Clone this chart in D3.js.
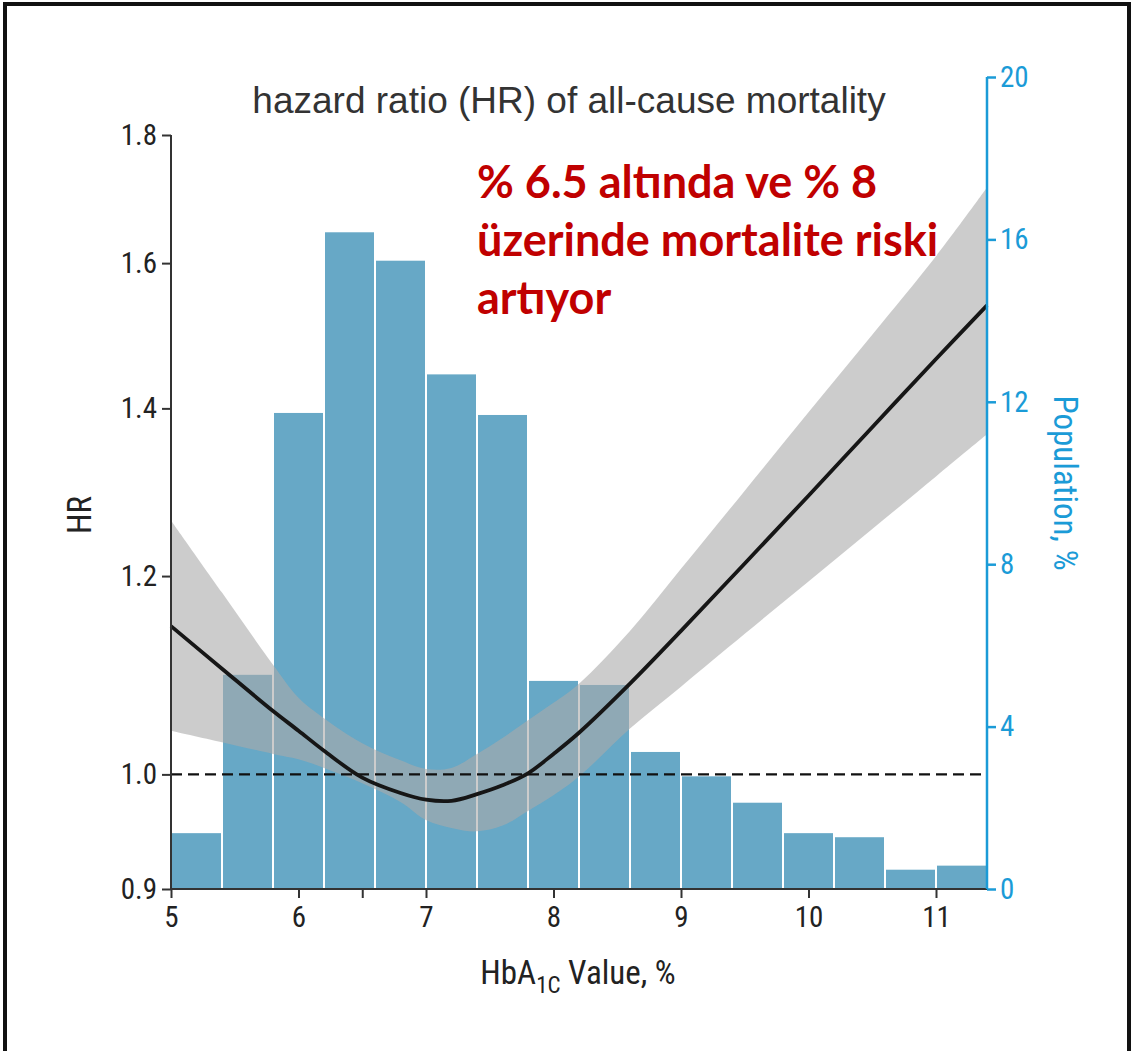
<!DOCTYPE html>
<html>
<head>
<meta charset="utf-8">
<script src="https://cdn.jsdelivr.net/npm/d3@7"></script>
<style>
  html, body { margin: 0; padding: 0; background: #fff; }
  svg { display: block; }
  .narrow { font-family: "Liberation Sans Narrow", "Arial Narrow", "Roboto Condensed", "Liberation Sans", Arial, sans-serif; }
</style>
</head>
<body>
<svg id="chart" width="1133" height="1051"></svg>
<script>
// HbA1c histogram bins (left edge, width 0.4) and share of population, %
const binStart = [5.0, 5.4, 5.8, 6.2, 6.6, 7.0, 7.4, 7.8, 8.2, 8.6, 9.0, 9.4, 9.8, 10.2, 10.6, 11.0];
const population = [1.4, 5.3, 11.75, 16.2, 15.5, 12.7, 11.7, 5.15, 5.05, 3.4, 2.8, 2.15, 1.4, 1.3, 0.5, 0.6];
const binWidth = 0.4;

// Spline fit of the hazard ratio with its 95% confidence band
const hba1c   = [5.0, 5.4, 5.8, 6.0, 6.2, 6.5, 6.8, 7.0, 7.2, 7.4, 7.6, 7.8, 8.0, 8.2, 8.6, 9.0, 9.5, 10.0, 10.5, 11.0, 11.4];
const hr      = [1.146, 1.102, 1.060, 1.041, 1.022, 0.997, 0.983, 0.977, 0.976, 0.982, 0.990, 1.001, 1.019, 1.039, 1.087, 1.141, 1.214, 1.292, 1.376, 1.465, 1.539];
const hrLower = [1.041, 1.030, 1.019, 1.014, 1.006, 0.992, 0.975, 0.959, 0.952, 0.949, 0.954, 0.967, 0.981, 0.998, 1.043, 1.084, 1.138, 1.194, 1.253, 1.315, 1.367];
const hrUpper = [1.263, 1.182, 1.106, 1.073, 1.053, 1.029, 1.013, 1.005, 1.006, 1.019, 1.034, 1.051, 1.068, 1.087, 1.141, 1.208, 1.298, 1.395, 1.498, 1.610, 1.715];

// Axis ticks
const hrTicks = [0.9, 1.0, 1.2, 1.4, 1.6, 1.8];
const popTicks = [0, 4, 8, 12, 16, 20];
const xTicks = [5, 6, 6.5, 7, 8, 9, 10, 11];
const xTickLabels = ["5", "6", "", "7", "8", "9", "10", "11"];

const titleText = "hazard ratio (HR) of all-cause mortality";
const noteLines = ["% 6.5 altında ve % 8", "üzerinde mortalite riski", "artıyor"];

const svg = d3.select("#chart");
const blue = "#1b9bd7";
const barFill = "#67a8c6";

const x = d3.scaleLinear().domain([5, 11.4]).range([171, 987]);
const yHR = d3.scaleLog().domain([0.9, 1.8]).range([889, 135]);
const yPop = d3.scaleLinear().domain([0, 20]).range([889, 77]);
const smooth = d3.curveCatmullRom.alpha(0.5);

// outer frame
svg.append("path")
  .attr("d", "M5,1051 V4 H1129 V1051")
  .attr("fill", "none").attr("stroke", "#111").attr("stroke-width", 4);

// histogram
svg.append("g").selectAll("rect")
  .data(binStart)
  .join("rect")
  .attr("x", d => x(d))
  .attr("width", d => x(d + binWidth) - x(d))
  .attr("y", (d, i) => yPop(population[i]))
  .attr("height", (d, i) => yPop(0) - yPop(population[i]))
  .attr("fill", barFill)
  .attr("stroke", "#fff").attr("stroke-width", 2);

// confidence band
const band = d3.area()
  .x((d, i) => x(hba1c[i]))
  .y0((d, i) => yHR(hrLower[i]))
  .y1((d, i) => yHR(hrUpper[i]))
  .curve(smooth);
svg.append("path")
  .attr("d", band(hba1c))
  .attr("fill", "#aaaaaa").attr("fill-opacity", 0.6);

// reference line HR = 1
svg.append("line")
  .attr("x1", x(5)).attr("x2", x(11.4))
  .attr("y1", yHR(1)).attr("y2", yHR(1))
  .attr("stroke", "#111").attr("stroke-width", 2.4)
  .attr("stroke-dasharray", "11,6");

// HR curve
const line = d3.line()
  .x((d, i) => x(hba1c[i]))
  .y((d, i) => yHR(d))
  .curve(smooth);
svg.append("path")
  .attr("d", line(hr))
  .attr("fill", "none").attr("stroke", "#161616").attr("stroke-width", 3.8);

// left axis (HR, log scale)
const gL = svg.append("g")
  .attr("class", "narrow")
  .attr("transform", `translate(${x(5)},0)`)
  .call(d3.axisLeft(yHR).tickValues(hrTicks).tickFormat(d3.format(".1f")).tickSize(9).tickPadding(5));
gL.select(".domain").attr("stroke", "#333").attr("stroke-width", 2).attr("d", `M0,${yHR(1.8)}V${yHR(0.9)}`);
gL.selectAll(".tick line").attr("stroke", "#333").attr("stroke-width", 2);
gL.selectAll(".tick text").attr("font-size", 29).attr("fill", "#222").attr("font-family", null);

// bottom axis
const gB = svg.append("g")
  .attr("class", "narrow")
  .attr("transform", `translate(0,${yHR(0.9)})`)
  .call(d3.axisBottom(x).tickValues(xTicks).tickFormat((d, i) => xTickLabels[i]).tickSize(9).tickPadding(8));
gB.select(".domain").attr("stroke", "#333").attr("stroke-width", 2).attr("d", `M${x(5)},0H${x(11.4)}`);
gB.selectAll(".tick line").attr("stroke", "#333").attr("stroke-width", 2);
gB.selectAll(".tick text").attr("font-size", 29).attr("fill", "#222").attr("font-family", null);

// right axis (population)
const gR = svg.append("g")
  .attr("class", "narrow")
  .attr("transform", `translate(${x(11.4)},0)`)
  .call(d3.axisRight(yPop).tickValues(popTicks).tickSize(9).tickPadding(4));
gR.select(".domain").attr("stroke", blue).attr("stroke-width", 2.5).attr("d", `M0,${yPop(20)}V${yPop(0)}`);
gR.selectAll(".tick line").attr("stroke", blue).attr("stroke-width", 2.5);
gR.selectAll(".tick text").attr("font-size", 29).attr("fill", blue).attr("font-family", null);

// axis titles
svg.append("text").attr("class", "narrow")
  .attr("transform", "translate(91,515) rotate(-90)")
  .attr("text-anchor", "middle").attr("font-size", 33).attr("fill", "#222")
  .text("HR");

svg.append("text").attr("class", "narrow")
  .attr("transform", "translate(1054,483) rotate(90)")
  .attr("text-anchor", "middle").attr("font-size", 33).attr("fill", blue)
  .text("Population, %");

const xl = svg.append("text").attr("class", "narrow")
  .attr("x", 578).attr("y", 984)
  .attr("text-anchor", "middle").attr("font-size", 33).attr("fill", "#222");
xl.append("tspan").text("HbA");
xl.append("tspan").attr("font-size", 23).attr("dy", 9).text("1C");
xl.append("tspan").attr("dy", -9).text(" Value, %");

// chart title
svg.append("text")
  .attr("x", 569).attr("y", 113)
  .attr("text-anchor", "middle")
  .attr("font-family", "'Liberation Sans', Arial, sans-serif")
  .attr("font-size", 37).attr("fill", "#333")
  .text(titleText);

// annotation
svg.append("g").selectAll("text")
  .data(noteLines)
  .join("text")
  .attr("x", 477)
  .attr("y", (d, i) => 198 + i * 58)
  .attr("font-family", "Lato, 'Open Sans', sans-serif")
  .attr("font-weight", "bold")
  .attr("font-size", 45)
  .attr("fill", "#c00000")
  .text(d => d);
</script>
</body>
</html>
